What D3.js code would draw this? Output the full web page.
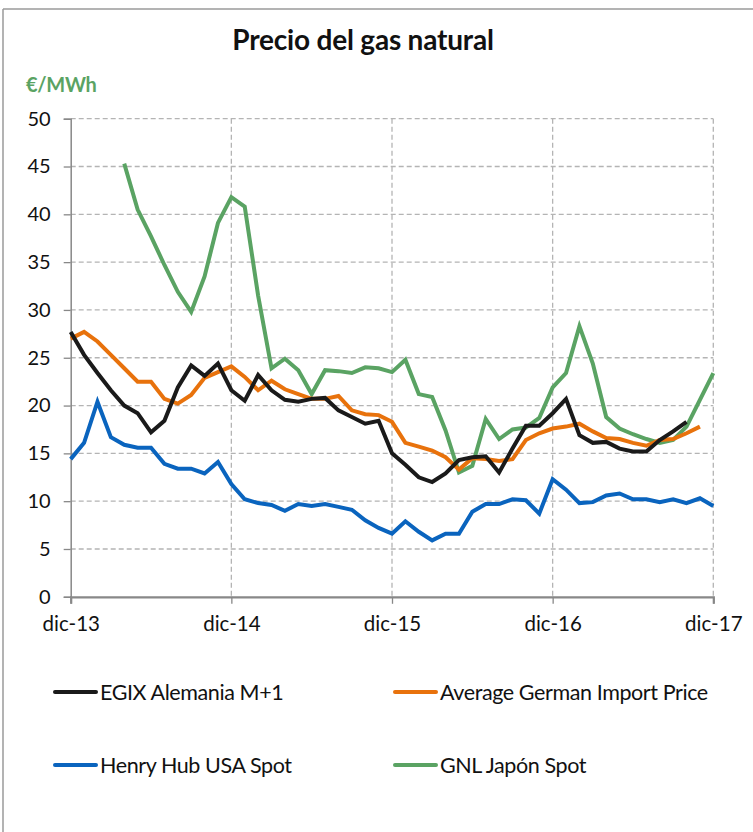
<!DOCTYPE html>
<html>
<head>
<meta charset="utf-8">
<script src="https://cdn.jsdelivr.net/npm/d3@7"></script>
<style>
  html, body { margin: 0; padding: 0; background: #fff; }
  svg { display: block; font-family: Lato, "Noto Sans", sans-serif; }
</style>
</head>
<body>
<svg id="chart" width="753" height="832"></svg>
<script>
// ---- data ----
const months = d3.timeMonth.range(new Date(2013, 11, 1), new Date(2017, 11, 2)); // dic-13 .. dic-17 (49 months)
const tickMonths = [0, 12, 24, 36, 48];
const tickLabels = ["dic-13", "dic-14", "dic-15", "dic-16", "dic-17"];
const yTicks = [0, 5, 10, 15, 20, 25, 30, 35, 40, 45, 50];

const egix = [27.7,25.3,23.4,21.6,20.0,19.2,17.2,18.4,21.9,24.2,23.1,24.4,21.6,20.5,23.2,21.6,20.6,20.4,20.7,20.8,19.5,18.8,18.1,18.4,15.0,13.8,12.5,12.0,12.9,14.3,14.6,14.7,13.0,15.5,17.9,17.9,19.2,20.7,16.9,16.1,16.2,15.5,15.2,15.2,16.4,17.3,18.3,null,null];
const germanImport = [27.0,27.7,26.7,25.3,23.9,22.5,22.5,20.7,20.2,21.1,22.9,23.5,24.1,23.0,21.6,22.6,21.7,21.2,20.7,20.7,21.0,19.5,19.1,19.0,18.3,16.1,15.7,15.3,14.6,13.3,14.5,14.4,14.2,14.4,16.4,17.1,17.6,17.8,18.1,17.3,16.6,16.5,16.1,15.8,16.4,16.5,17.1,17.8,null];
const henryHub = [14.4,16.1,20.4,16.7,15.9,15.6,15.6,13.9,13.4,13.4,12.9,14.1,11.8,10.2,9.8,9.6,9.0,9.7,9.5,9.7,9.4,9.1,8.0,7.2,6.6,7.9,6.8,5.9,6.6,6.6,8.9,9.7,9.7,10.2,10.1,8.7,12.3,11.2,9.8,9.9,10.6,10.8,10.2,10.2,9.9,10.2,9.8,10.3,9.5];
const gnlJapon = [null,null,null,null,45.3,40.5,37.7,34.7,31.9,29.8,33.5,39.1,41.8,40.8,31.5,23.9,24.9,23.7,21.2,23.7,23.6,23.4,24.0,23.9,23.5,24.8,21.2,20.9,17.4,13.0,13.7,18.6,16.5,17.5,17.7,18.7,21.9,23.4,28.3,24.4,18.8,17.6,17.0,16.5,16.1,16.4,17.8,20.6,23.4];

const seriesNames = ["EGIX Alemania M+1", "Average German Import Price", "Henry Hub USA Spot", "GNL Japón Spot"];
const seriesColors = ["#1a1a1a", "#e8720c", "#0a64be", "#5aa363"];
const seriesValues = [egix, germanImport, henryHub, gnlJapon];

// ---- layout ----
const svg = d3.select("#chart");
const plotLeft = 70.7, plotRight = 713.3, plotTop = 118.7, plotBottom = 596.8;

// frame
svg.append("line").attr("x1", 3).attr("x2", 3).attr("y1", 9).attr("y2", 832).attr("stroke", "#9a9a9a").attr("stroke-width", 1.5);
svg.append("line").attr("x1", 3).attr("x2", 753).attr("y1", 9).attr("y2", 9).attr("stroke", "#9a9a9a").attr("stroke-width", 1.5);

const x = d3.scaleLinear().domain([0, months.length - 1]).range([plotLeft, plotRight]);
const y = d3.scaleLinear().domain([0, 50]).range([plotBottom, plotTop]);

// grid
const grid = svg.append("g");
grid.selectAll("line.h").data(yTicks.filter(d => d > 0)).join("line")
  .attr("x1", plotLeft).attr("x2", plotRight).attr("y1", d => y(d)).attr("y2", d => y(d))
  .attr("stroke", "#b4b4b4").attr("stroke-width", 1.3).attr("stroke-dasharray", "5,3");
grid.selectAll("line.v").data(tickMonths.filter(d => d > 0)).join("line")
  .attr("x1", d => x(d)).attr("x2", d => x(d)).attr("y1", plotTop).attr("y2", plotBottom)
  .attr("stroke", "#b4b4b4").attr("stroke-width", 1.3).attr("stroke-dasharray", "5,3");

// axes
const yAxis = d3.axisLeft(y).tickValues(yTicks).tickSize(7).tickPadding(13);
const gy = svg.append("g").attr("transform", `translate(${plotLeft},0)`).call(yAxis);
gy.select(".domain").attr("stroke", "#888").attr("stroke-width", 1.5);
gy.selectAll(".tick line").attr("stroke", "#888").attr("stroke-width", 1.3);
gy.selectAll(".tick text").attr("font-size", 20).attr("fill", "#111").attr("font-family", "Lato");

const xAxis = d3.axisBottom(x).tickValues(tickMonths).tickFormat((d, i) => tickLabels[i]).tickSize(7).tickPadding(13);
const gx = svg.append("g").attr("transform", `translate(0,${plotBottom})`).call(xAxis);
gx.select(".domain").attr("stroke", "#888").attr("stroke-width", 2.2);
gx.selectAll(".tick line").attr("stroke", "#888").attr("stroke-width", 1.3);
gx.selectAll(".tick text").attr("font-size", 20.5).attr("fill", "#111").attr("font-family", "Lato");

// lines
const line = d3.line().defined(d => d != null).x((d, i) => x(i)).y(d => y(d));
const order = [3, 2, 1, 0];
order.forEach(k => {
  svg.append("path")
    .attr("d", line(seriesValues[k]))
    .attr("fill", "none")
    .attr("stroke", seriesColors[k])
    .attr("stroke-width", 4)
    .attr("stroke-linejoin", "miter")
    .attr("stroke-linecap", "butt");
});

// title and unit
svg.append("text").attr("x", 363).attr("y", 50).attr("text-anchor", "middle")
  .attr("font-size", 28).attr("font-weight", "bold").attr("letter-spacing", -0.2).attr("fill", "#111").text("Precio del gas natural");
svg.append("text").attr("x", 26).attr("y", 92)
  .attr("font-size", 20).attr("font-weight", "bold").attr("letter-spacing", -0.3).attr("fill", "#5aa363").text("€/MWh");

// legend
const legendPos = [[55, 692], [395, 692], [55, 765], [395, 765]];
const lg = svg.append("g");
seriesNames.forEach((name, k) => {
  const [lx, ly] = legendPos[k];
  lg.append("line").attr("x1", lx).attr("x2", lx + 41).attr("y1", ly).attr("y2", ly)
    .attr("stroke", seriesColors[k]).attr("stroke-width", 4).attr("stroke-linecap", "round");
  lg.append("text").attr("x", lx + 45).attr("y", ly).attr("dy", "0.35em")
    .attr("font-size", 21.5).attr("letter-spacing", -0.4).attr("fill", "#111").text(name);
});
</script>
</body>
</html>
